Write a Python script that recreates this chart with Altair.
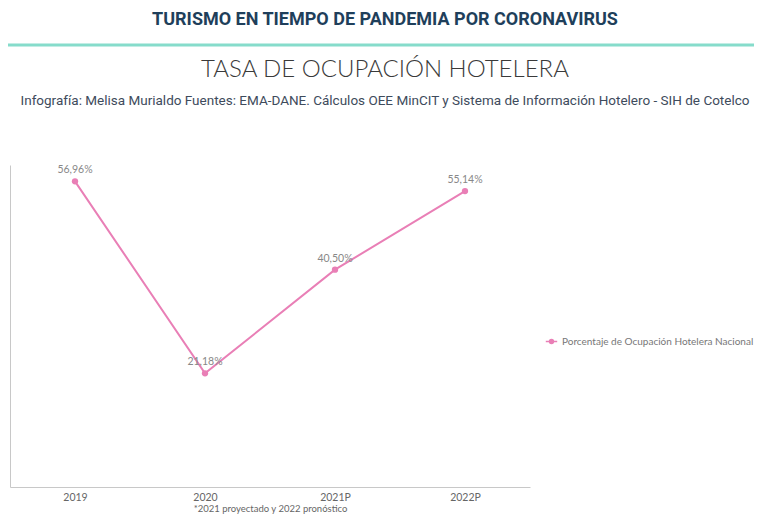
import altair as alt
import pandas as pd

# ---- data ----
anios = ["2019", "2020", "2021P", "2022P"]
ocupacion = [56.96, 21.18, 40.50, 55.14]
etiquetas = ["56,96%", "21,18%", "40,50%", "55,14%"]
serie = "Porcentaje de Ocupación Hotelera Nacional"

encabezado = "TURISMO EN TIEMPO DE PANDEMIA POR CORONAVIRUS"
titulo = "TASA DE OCUPACIÓN HOTELERA"
fuente = "Infografía: Melisa Murialdo Fuentes: EMA-DANE. Cálculos OEE MinCIT y Sistema de Información Hotelero - SIH de Cotelco"
nota = "*2021 proyectado y 2022 pronóstico"

PINK = "#e97fb6"
FONT = "Lato"

df = pd.DataFrame({"anio": anios, "valor": ocupacion, "etiqueta": etiquetas, "serie": [serie] * 4})

x = alt.X("anio:O", sort=anios, scale=alt.Scale(type="point", padding=0.5),
          axis=alt.Axis(title=nota, labelAngle=0, ticks=False, domainColor="#c8c8c8",
                        labelColor="#666666", labelFont=FONT, labelFontSize=10.5, labelPadding=5,
                        titleFont=FONT, titleFontSize=9.5, titleFontWeight="normal",
                        titleColor="#666666", titlePadding=1, grid=False))
y = alt.Y("valor:Q", scale=alt.Scale(domain=[0, 60], nice=False),
          axis=alt.Axis(title=None, labels=False, ticks=False, grid=False, domainColor="#c8c8c8"))

color = alt.Color("serie:N", scale=alt.Scale(range=[PINK]),
                  legend=alt.Legend(orient="none", legendX=535, legendY=170, title=None,
                                    symbolType="M-1,0L1,0M-0.35,0A0.35,0.35 0 1,1 0.35,0A0.35,0.35 0 1,1 -0.35,0Z",
                                    symbolSize=130, symbolStrokeWidth=1.5, symbolFillColor=PINK,
                                    labelFont=FONT, labelFontSize=10, labelColor="#777777", labelLimit=400))

base = alt.Chart(df)
line = base.mark_line(strokeWidth=2).encode(x=x, y=y, color=color)
pts = base.mark_point(filled=True, size=40, opacity=1).encode(x=x, y=y, color=color)
labels = base.mark_text(dy=-11, font=FONT, fontSize=10.5, color="#888888").encode(x=x, y=y, text="etiqueta:N")

def txt(t, xv, yv, size, color, weight="normal", font=FONT):
    return alt.Chart(pd.DataFrame({"t": [t]})).mark_text(
        fontSize=size, color=color, fontWeight=weight, font=font, align="center", baseline="middle"
    ).encode(text="t:N", x=alt.value(xv), y=alt.value(yv))

h1 = txt(encabezado, 375, -145, 18, "#1f3f5b", "bold", "Roboto")
regla = alt.Chart(pd.DataFrame({"a": [0]})).mark_rule(color="#86dccb", strokeWidth=3).encode(
    x=alt.value(-2), x2=alt.value(744), y=alt.value(-120))
h2 = txt(titulo, 375, -95, 24, "#3a3a3a", 300, "Lato")
h3 = txt(fuente, 375, -64, 13.5, "#3e4b5c", "normal", "Roboto")

chart = alt.layer(line, pts, labels, h1, regla, h2, h3).properties(
    width=520, height=322,
    background="white",
    autosize=alt.AutoSizeParams(type="none"),
    padding={"left": 2, "top": 157, "right": 224, "bottom": 27},
).configure_view(stroke=None)

chart.save("out.html", embed_options={"renderer": "svg", "actions": False})
